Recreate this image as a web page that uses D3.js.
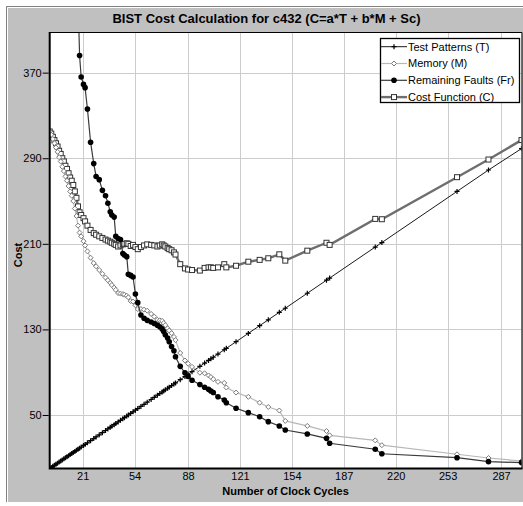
<!DOCTYPE html>
<html>
  <head>
    <meta charset="utf-8">
    <title>BIST Cost Calculation</title>
    <script src="https://cdn.jsdelivr.net/npm/d3@7"></script>
    <style type="text/css">
      body { margin: 0; background: #fff; }
      text { font-family: Arial, "Liberation Sans", sans-serif; }
    </style>
  </head>
  <body>
    <script>
    //Width and height
    var svgWidth = 523;
    var svgHeight = 506;

    //Clock cycles (x) shared by all four series
    var cycles = [0, 1, 2, 3, 4, 5, 6, 7, 8, 9, 10, 11, 12, 13, 14, 15, 16, 17, 18,
      19, 20, 21.5, 22.5, 24, 26, 28, 29.5, 31.5, 33.5, 35.5, 37, 38.5, 39.5, 41, 42, 43.5, 45, 46.5, 47.5,
      49, 50, 51.5, 53, 54.5, 56, 58, 60, 62, 64.5, 66.5, 68.5, 70, 71.5, 72.5, 73.5, 75, 76, 77.5, 79,
      80, 83, 86, 88, 90.5, 95.5, 98.5, 101, 102.5, 104, 107, 111, 112.3, 118.5, 126.3, 133.5, 139, 146, 149.8, 163.8,
      176, 178, 207, 211.2, 259, 279, 300];

    var testPatterns = [0, 1, 2, 3, 4, 5, 6, 7, 8, 9, 10, 11, 12, 13, 14, 15, 16, 17, 18,
      19, 20, 21.5, 22.5, 24, 26, 28, 29.5, 31.5, 33.5, 35.5, 37, 38.5, 39.5, 41, 42, 43.5, 45, 46.5, 47.5,
      49, 50, 51.5, 53, 54.5, 56, 58, 60, 62, 64.5, 66.5, 68.5, 70, 71.5, 72.5, 73.5, 75, 76, 77.5, 79,
      80, 83, 86, 88, 90.5, 95.5, 98.5, 101, 102.5, 104, 107, 111, 112.3, 118.5, 126.3, 133.5, 139, 146, 149.8, 163.8,
      176, 178, 207, 211.2, 259, 279, 299];

    var memory = [315, 312, 308, 304, 300, 296, 291, 287, 282, 278, 273, 269, 264, 259, 255, 250, 243, 236, 227,
      220.5, 217, 212.5, 208.5, 203, 197, 192, 189, 185.5, 182, 178.5, 176, 173.5, 171.5, 169, 167, 164, 163.5, 163, 162.5,
      161.5, 160, 156.5, 156, 152.5, 149, 149, 148.5, 147.5, 144.5, 142, 139, 138.5, 138, 136, 134, 131, 129, 126.5, 123,
      120, 108, 101, 98, 95, 89.5, 89, 87, 85.5, 83.5, 81, 80, 75.7, 71, 67, 61.5, 57.5, 54.2, 44.5, 39.8,
      35, 31, 26.3, 21.8, 13.3, 9.8, 7];

    var remainingFaults = [null, null, null, null, null, null, null, null, null, null, null, null, null, null, null, null, 540, 490, 440,
      386, 366, 359, 356, 336, 305, 285, 273, 270, 260, 255, 248, 240, 237, 235, 217, 215, 214, 201, 199.5,
      198, 181.5, 180.5, 179, 163, 155, 143.5, 140.5, 138.5, 137, 135.5, 134, 132.5, 130.5, 128, 125, 122, 118.5, 114, 110,
      104.5, 95.5, 89.5, 86, 82.5, 78.5, 76, 74, 72.5, 71, 67, 64, 61.5, 56.3, 52.2, 48.4, 43.8, 39.7, 36, 32.3,
      28.2, 23.6, 18, 13.8, 10.1, 6.4, 5.5];

    var costFunction = [315, 313, 310, 307, 304, 301, 297, 294, 290, 287, 283, 280, 276, 272, 269, 265, 259, 253, 245,
      239.5, 237, 234, 231, 227, 223, 220, 218.5, 217, 215.5, 214, 213, 212, 211, 210, 209, 207.5, 208.5, 209.5, 210,
      210.5, 210, 208, 209, 207, 205, 207, 208.5, 209.5, 209, 208.5, 207.5, 208.5, 209.5, 208.5, 207.5, 206, 205, 204, 202,
      200, 191, 187, 186, 185.5, 185, 187.5, 188, 188, 187.5, 188, 191, 188, 189.5, 193.3, 195, 196.5, 200.2, 194.3, 203.6,
      211, 209, 233.3, 233, 272.3, 288.8, 307];

    //Tick labels
    var xTicks = [21, 54, 88, 121, 154, 187, 220, 253, 287];
    var yTicks = [50, 130, 210, 290, 370];

    var seriesNames = ["Test Patterns (T)", "Memory (M)", "Remaining Faults (Fr)", "Cost Function (C)"];

    //Plot box
    var plotLeft = 49.7, plotRight = 521.5, plotTop = 32, plotBottom = 468.5;

    var xScale = d3.scaleLinear()
      .domain([0, 300])
      .range([plotLeft, plotRight]);

    var yScale = d3.scaleLinear()
      .domain([0, 408])
      .range([plotBottom, plotTop]);

    var svg = d3.select("body")
      .append("svg")
        .attr("width", svgWidth)
        .attr("height", svgHeight);

    //Gray panel
    svg.append("rect")
      .attr("x", 6).attr("y", 6)
      .attr("width", svgWidth - 6).attr("height", 496)
      .attr("fill", "#c0c0c0");
    svg.append("path")
      .attr("d", "M6.5,502V6.5H523")
      .attr("fill", "none").attr("stroke", "#808080");
    svg.append("path")
      .attr("d", "M7.5,502V7.5H523")
      .attr("fill", "none").attr("stroke", "#ffffff");

    //Plot background
    svg.append("rect")
      .attr("x", plotLeft).attr("y", plotTop)
      .attr("width", plotRight - plotLeft).attr("height", plotBottom - plotTop)
      .attr("fill", "#ffffff");

    //Grid
    svg.append("g").selectAll("line")
      .data(xTicks).enter().append("line")
      .attr("x1", function(d) { return Math.round(xScale(d)) + 0.5; })
      .attr("x2", function(d) { return Math.round(xScale(d)) + 0.5; })
      .attr("y1", plotTop).attr("y2", plotBottom)
      .attr("stroke", "#cccccc");
    svg.append("g").selectAll("line")
      .data(yTicks).enter().append("line")
      .attr("y1", function(d) { return Math.round(yScale(d)) + 0.5; })
      .attr("y2", function(d) { return Math.round(yScale(d)) + 0.5; })
      .attr("x1", plotLeft).attr("x2", plotRight)
      .attr("stroke", "#cccccc");

    svg.append("clipPath").attr("id", "plotClip")
      .append("rect")
      .attr("x", plotLeft).attr("y", plotTop)
      .attr("width", plotRight - plotLeft).attr("height", plotBottom - plotTop);

    var plot = svg.append("g").attr("clip-path", "url(#plotClip)");

    function points(values) {
      return cycles.map(function(c, i) { return [c, values[i]]; })
        .filter(function(d) { return d[1] != null; });
    }

    var line = d3.line()
      .x(function(d) { return xScale(d[0]); })
      .y(function(d) { return yScale(d[1]); });

    //marker shapes
    var markers = {
      plus: function(g) {
        g.append("path").attr("d", "M-2.5,0H2.5M0,-2.5V2.5")
          .attr("stroke", "#000").attr("stroke-width", 1.2);
      },
      diamond: function(g) {
        g.append("path").attr("d", "M0,-2.5L2.5,0L0,2.5L-2.5,0Z")
          .attr("fill", "#fff").attr("stroke", "#7a7a7a");
      },
      dot: function(g) {
        g.append("circle").attr("r", 2.8).attr("fill", "#000");
      },
      square: function(g) {
        g.append("rect").attr("x", -2.5).attr("y", -2.5)
          .attr("width", 5).attr("height", 5)
          .attr("fill", "#fff").attr("stroke", "#333").attr("stroke-width", 1);
      }
    };

    var series = [
      { name: seriesNames[3], values: costFunction, color: "#6e6e6e", width: 2.4, marker: "square" },
      { name: seriesNames[1], values: memory, color: "#b8b8b8", width: 1.2, marker: "diamond" },
      { name: seriesNames[0], values: testPatterns, color: "#1a1a1a", width: 1, marker: "plus" },
      { name: seriesNames[2], values: remainingFaults, color: "#3a3a3a", width: 1.2, marker: "dot" }
    ];

    series.forEach(function(s) {
      var data = points(s.values);
      plot.append("path")
        .datum(data)
        .attr("d", line)
        .attr("fill", "none")
        .attr("stroke", s.color)
        .attr("stroke-width", s.width);
      plot.append("g").selectAll("g")
        .data(data).enter().append("g")
        .attr("transform", function(d) {
          return "translate(" + xScale(d[0]) + "," + yScale(d[1]) + ")";
        })
        .each(function() { markers[s.marker](d3.select(this)); });
    });

    //Frame: thin top/right, heavy left/bottom
    svg.append("path")
      .attr("d", "M" + plotLeft + "," + (plotTop + 0.5) + "H" + (plotRight + 0.5) + "V" + plotBottom)
      .attr("fill", "none").attr("stroke", "#000");
    svg.append("path")
      .attr("d", "M" + plotLeft + "," + plotTop + "V" + plotBottom + "H" + (plotRight + 1))
      .attr("fill", "none").attr("stroke", "#000").attr("stroke-width", 2);

    //Axes
    var yAxis = svg.append("g")
      .attr("transform", "translate(" + (plotLeft - 1) + ",0)")
      .call(d3.axisLeft(yScale).tickValues(yTicks).tickSize(6).tickPadding(1));
    yAxis.select(".domain").remove();
    yAxis.selectAll("line").attr("stroke", "#000");
    yAxis.selectAll("text").attr("font-size", "11px").attr("fill", "#000")
      .style("font-family", "Arial, 'Liberation Sans', sans-serif");

    var xAxis = svg.append("g")
      .attr("transform", "translate(0," + plotBottom + ")")
      .call(d3.axisBottom(xScale).tickValues(xTicks).tickSize(0).tickPadding(3.5));
    xAxis.select(".domain").remove();
    xAxis.selectAll("text").attr("font-size", "11px").attr("fill", "#000")
      .style("font-family", "Arial, 'Liberation Sans', sans-serif");

    //Titles
    svg.append("text")
      .attr("x", 266.5).attr("y", 23)
      .attr("text-anchor", "middle")
      .attr("font-size", "13px").attr("font-weight", "bold")
      .text("BIST Cost Calculation for c432 (C=a*T + b*M + Sc)");

    svg.append("text")
      .attr("x", (plotLeft + plotRight) / 2).attr("y", 495)
      .attr("text-anchor", "middle")
      .attr("font-size", "11px").attr("font-weight", "bold")
      .text("Number of Clock Cycles");

    svg.append("text")
      .attr("transform", "translate(22,255) rotate(-90)")
      .attr("text-anchor", "middle")
      .attr("font-size", "11px").attr("font-weight", "bold")
      .text("Cost");

    //Legend
    var legendOrder = [2, 1, 3, 0];
    var legend = svg.append("g").attr("transform", "translate(380,38)");
    legend.append("rect")
      .attr("x", 0.5).attr("y", 0.5)
      .attr("width", 139).attr("height", 64)
      .attr("fill", "#fff").attr("stroke", "#000").attr("stroke-width", 1.3);

    legendOrder.forEach(function(k, i) {
      var s = series[k];
      var row = legend.append("g").attr("transform", "translate(0," + (8.7 + i * 16.8) + ")");
      row.append("line")
        .attr("x1", 1).attr("x2", 27)
        .attr("stroke", s.color).attr("stroke-width", s.width);
      markers[s.marker](row.append("g").attr("transform", "translate(14,0)"));
      row.append("text")
        .attr("x", 28).attr("y", 0).attr("dy", "0.36em")
        .attr("font-size", "11px")
        .text(s.name);
    });
    </script>
  </body>
</html>
